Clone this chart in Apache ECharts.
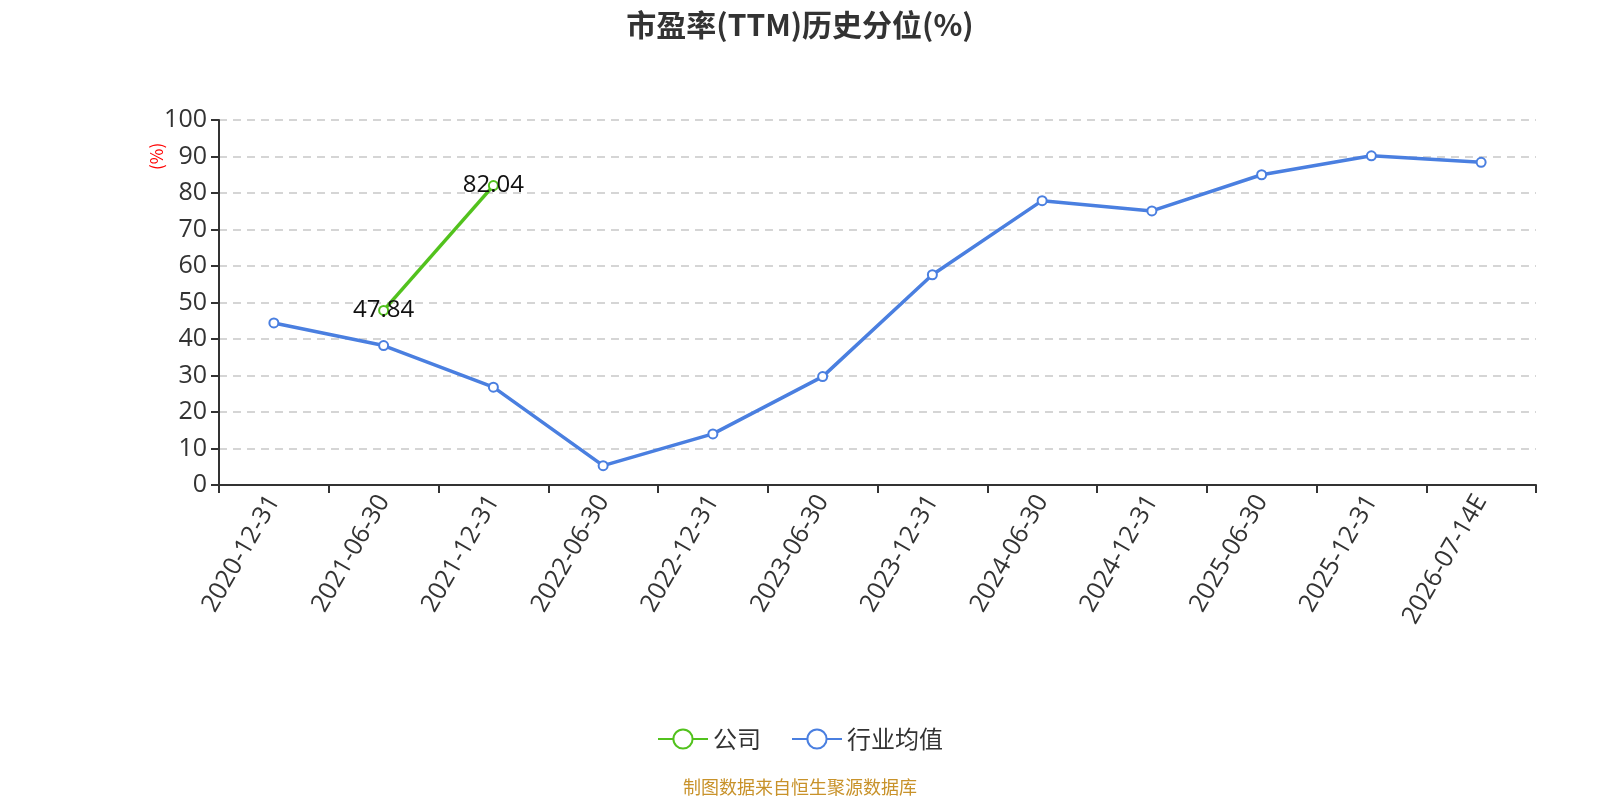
<!DOCTYPE html>
<html><head><meta charset="utf-8">
<script src="https://cdn.jsdelivr.net/npm/echarts@6/dist/echarts.min.js"></script>
<style>html,body{margin:0;padding:0;background:#fff}#c{width:1600px;height:800px}</style>
</head><body><div id="c"></div>
<script>
const categories = ['2020-12-31','2021-06-30','2021-12-31','2022-06-30','2022-12-31','2023-06-30','2023-12-31','2024-06-30','2024-12-31','2025-06-30','2025-12-31','2026-07-14E'];
const companyValues = [null, 47.84, 82.04, null, null, null, null, null, null, null, null, null];
const industryValues = [44.4, 38.2, 26.8, 5.3, 14.0, 29.7, 57.6, 77.9, 75.1, 85.0, 90.2, 88.4];
const yTicks = {min: 0, max: 100, interval: 10};

const chart = echarts.init(document.getElementById('c'));
chart.setOption({
  animation: false,
  backgroundColor: '#fff',
  title: {
    text: '市盈率(TTM)历史分位(%)',
    left: 'center', top: 5,
    textStyle: {fontSize: 30, fontWeight: 'bold', color: '#333', fontFamily: 'Noto Sans CJK SC'}
  },
  grid: {left: 219, right: 64, top: 120, bottom: 315},
  legend: {
    top: 722, left: 'center',
    itemWidth: 50, itemHeight: 24, itemGap: 30,
    textStyle: {fontSize: 24, color: '#333', fontFamily: 'Noto Sans CJK SC'},
    data: ['公司', '行业均值']
  },
  graphic: [
    {type: 'text', left: 'center', top: 778, style: {text: '制图数据来自恒生聚源数据库', fill: '#c8922a', fontSize: 18, fontFamily: 'Noto Sans CJK SC'}},
    {type: 'text', x: 148, y: 170, rotation: Math.PI / 2, style: {text: '(%)', fill: '#ff0000', fontSize: 17, fontFamily: 'Noto Sans CJK SC'}}
  ],
  xAxis: {
    type: 'category', data: categories, boundaryGap: true,
    axisLine: {lineStyle: {color: '#333', width: 2}},
    axisTick: {show: true, length: 8, lineStyle: {color: '#333', width: 2}},
    axisLabel: {rotate: 60, fontSize: 25, color: '#333', margin: 12, fontFamily: 'Open Sans'}
  },
  yAxis: {
    type: 'value', min: yTicks.min, max: yTicks.max, interval: yTicks.interval,
    axisLine: {show: true, lineStyle: {color: '#333', width: 2}},
    axisTick: {show: true, length: 8, lineStyle: {color: '#333', width: 2}},
    axisLabel: {fontSize: 25, color: '#333', margin: 12, fontFamily: 'Open Sans'},
    splitLine: {lineStyle: {type: [8, 6], color: '#c8c8c8', width: 1.5}}
  },
  series: [
    {
      name: '公司', type: 'line', data: companyValues,
      symbol: 'emptyCircle', symbolSize: 9,
      itemStyle: {color: '#52c21d'}, lineStyle: {width: 3.5, color: '#52c21d'},
      label: {show: true, position: 'inside', fontSize: 24, color: '#111', fontFamily: 'Open Sans'}
    },
    {
      name: '行业均值', type: 'line', data: industryValues,
      symbol: 'emptyCircle', symbolSize: 9,
      itemStyle: {color: '#4a7fe0'}, lineStyle: {width: 3.5, color: '#4a7fe0'},
      label: {show: false}
    }
  ]
});
</script></body></html>
